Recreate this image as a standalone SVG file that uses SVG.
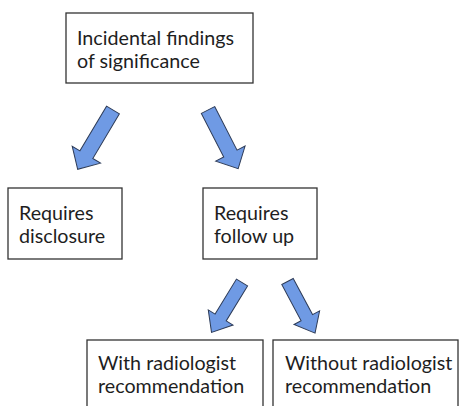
<svg xmlns="http://www.w3.org/2000/svg" width="462" height="406" viewBox="0 0 462 406">
<style>
.box{fill:#fff;stroke:#333;stroke-width:1.3}
.t{font-family:Lato,"Open Sans","Liberation Sans",sans-serif;font-size:19.7px;fill:#1e1e1e}
.arr{fill:#6f9ae4;stroke:#2d3b57;stroke-width:1;stroke-linejoin:miter}
</style>
<rect width="462" height="406" fill="#fff"/>
<g id="connectors">
<polygon class="arr" transform="translate(113,110) rotate(120.8)" points="0,-7.5 52,-7.5 52,-16.5 69,0 52,16.5 52,7.5 0,7.5"/>
<polygon class="arr" transform="translate(208,110) rotate(62.8)" points="0,-7.5 49,-7.5 49,-16.5 66,0 49,16.5 49,7.5 0,7.5"/>
<polygon class="arr" transform="translate(242,282.5) rotate(121.4)" points="0,-6.5 41,-6.5 41,-14.5 58.5,0 41,14.5 41,6.5 0,6.5"/>
<polygon class="arr" transform="translate(287.5,281.5) rotate(61.9)" points="0,-6.5 41,-6.5 41,-14.5 58.5,0 41,14.5 41,6.5 0,6.5"/>
</g>
<g id="n-incidental">
<rect class="box" x="66" y="13" width="187" height="70"/>
<text class="t" x="77" y="45">Incidental findings</text>
<text class="t" x="77" y="68">of significance</text>
</g>
<g id="n-disclosure">
<rect class="box" x="8" y="188" width="114" height="71"/>
<text class="t" x="19" y="220">Requires</text>
<text class="t" x="19" y="243">disclosure</text>
</g>
<g id="n-followup">
<rect class="box" x="203" y="188" width="114" height="71"/>
<text class="t" x="214" y="220">Requires</text>
<text class="t" x="214" y="243">follow up</text>
</g>
<g id="n-with">
<rect class="box" x="87" y="340" width="176" height="80"/>
<text class="t" x="98" y="370">With radiologist</text>
<text class="t" x="98" y="393">recommendation</text>
</g>
<g id="n-without">
<rect class="box" x="273" y="340" width="185" height="80"/>
<text class="t" x="285" y="370">Without radiologist</text>
<text class="t" x="285" y="393">recommendation</text>
</g>
</svg>
